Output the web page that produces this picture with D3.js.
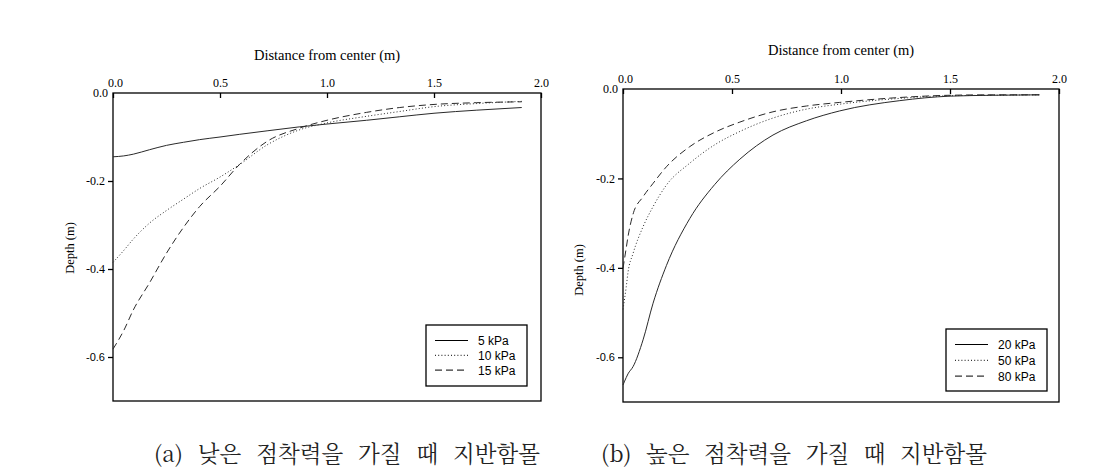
<!DOCTYPE html>
<html><head><meta charset="utf-8">
<script src="https://cdn.jsdelivr.net/npm/d3@7"></script>
<style>
body{margin:0;background:#fff;}
svg{display:block;}
</style></head>
<body>
<svg id="c" width="1099" height="474"></svg>
<script>
// ---- data ----
const xTicks = [0, 0.5, 1.0, 1.5, 2.0];
const yTicks = [0, -0.2, -0.4, -0.6];
const xTitle = "Distance from center (m)";
const yTitle = "Depth (m)";

const distA = [0, 0.05, 0.095, 0.17, 0.25, 0.33, 0.405, 0.5, 0.59, 0.72, 0.87, 1.0, 1.185, 1.34, 1.5, 1.7, 1.91];
const depth5 = [-0.145, -0.143, -0.139, -0.129, -0.119, -0.112, -0.106, -0.100, -0.094, -0.086, -0.077, -0.0705, -0.062, -0.054, -0.046, -0.039, -0.033];
const depth10 = [-0.385, -0.358, -0.332, -0.296, -0.267, -0.241, -0.217, -0.191, -0.163, -0.118, -0.084, -0.068, -0.053, -0.042, -0.031, -0.024, -0.019];
const depth15 = [-0.582, -0.540, -0.493, -0.432, -0.364, -0.305, -0.258, -0.212, -0.163, -0.110, -0.080, -0.062, -0.044, -0.033, -0.026, -0.022, -0.020];
const seriesA = ["5 kPa", "10 kPa", "15 kPa"];

const distB = [0, 0.015, 0.023, 0.046, 0.092, 0.138, 0.199, 0.306, 0.42, 0.536, 0.688, 0.842, 0.994, 1.27, 1.5, 1.7, 1.91];
const depth20 = [-0.662, -0.645, -0.637, -0.621, -0.561, -0.479, -0.395, -0.290, -0.214, -0.157, -0.103, -0.071, -0.049, -0.026, -0.016, -0.014, -0.013];
const depth50 = [-0.493, -0.442, -0.410, -0.368, -0.308, -0.263, -0.215, -0.166, -0.125, -0.095, -0.065, -0.045, -0.034, -0.021, -0.015, -0.014, -0.013];
const depth80 = [-0.401, -0.355, -0.330, -0.280, -0.241, -0.211, -0.174, -0.129, -0.097, -0.074, -0.051, -0.038, -0.030, -0.019, -0.014, -0.013, -0.013];
const seriesB = ["20 kPa", "50 kPa", "80 kPa"];

const captions = ["(a) 낮은 점착력을 가질 때 지반함몰", "(b) 높은 점착력을 가질 때 지반함몰"];

// ---- drawing ----
const svg = d3.select("#c");
const dashes = [null, "1,2.2", "7,4"];
const serif = "'Liberation Serif','Times New Roman',serif";
const sans = "'Liberation Sans',Arial,sans-serif";

function panel(cfg) {
  const x = d3.scaleLinear().domain([0, 2]).range([cfg.x0, cfg.x1]);
  const y = d3.scaleLinear().domain([0, -0.7]).range([cfg.y0, cfg.y1]);
  const g = svg.append("g");

  // plot box
  g.append("rect").attr("x", cfg.x0).attr("y", cfg.y0)
    .attr("width", cfg.x1 - cfg.x0).attr("height", cfg.y1 - cfg.y0)
    .attr("fill", "none").attr("stroke", "#000").attr("stroke-width", 1.3);

  // top x axis (ticks inward)
  const xa = g.append("g").attr("transform", `translate(0,${cfg.y0})`)
    .call(d3.axisTop(x).tickValues(xTicks).tickSize(-5).tickPadding(6).tickFormat(d3.format(".1f")));
  xa.select(".domain").remove();
  xa.selectAll("line").attr("stroke-width", 1.3);
  xa.selectAll("text").attr("font-family", serif).attr("font-size", 12).attr("fill", "#000");
  xa.selectAll(".tick").filter(d => d === 0).select("text").attr("dx", 2);

  // left y axis (ticks outward)
  const ya = g.append("g").attr("transform", `translate(${cfg.x0},0)`)
    .call(d3.axisLeft(y).tickValues(yTicks).tickSize(5).tickPadding(3)
      .tickFormat(d => d === 0 ? "0.0" : d3.format(".1f")(d).replace("−", "-")));
  ya.select(".domain").remove();
  ya.selectAll("line").attr("stroke-width", 1.3);
  ya.selectAll("text").attr("fill", "#000")
    .attr("font-family", d => d === -0.6 ? sans : serif)
    .attr("font-size", d => d === -0.6 ? 11 : 12);
  ya.selectAll(".tick").filter(d => d === 0).select("line").remove();
  ya.selectAll(".tick").filter(d => d === 0).select("text").attr("x", -5);

  // titles
  g.append("text").attr("x", (cfg.x0 + cfg.x1) / 2).attr("y", cfg.titleY)
    .attr("text-anchor", "middle").attr("font-family", serif).attr("font-size", 14.5)
    .text(xTitle);
  g.append("text").attr("transform", `translate(${cfg.ytX},${cfg.ytY}) rotate(-90)`)
    .attr("text-anchor", "middle").attr("font-family", serif).attr("font-size", 12.5)
    .text(yTitle);

  // lines
  const line = d3.line().x((d, i) => x(cfg.dist[i])).y(d => y(d)).curve(d3.curveMonotoneX);
  cfg.series.forEach((s, k) => {
    g.append("path").datum(s).attr("d", line).attr("fill", "none")
      .attr("stroke", "#2a2a2a").attr("stroke-width", 1)
      .attr("stroke-dasharray", dashes[k]);
  });

  // legend
  const L = cfg.leg;
  g.append("rect").attr("x", L.x).attr("y", L.y).attr("width", L.w).attr("height", L.h)
    .attr("fill", "#fff").attr("stroke", "#000").attr("stroke-width", 1.3);
  cfg.names.forEach((n, k) => {
    const yy = L.y + L.first + k * L.step;
    g.append("line").attr("x1", L.x + 9).attr("x2", L.x + 42).attr("y1", yy).attr("y2", yy)
      .attr("stroke", "#000").attr("stroke-width", 1).attr("stroke-dasharray", dashes[k]);
    g.append("text").attr("x", L.x + 52).attr("y", yy + 4.5).attr("font-family", sans)
      .attr("font-size", 12).text(n);
  });

  // caption: wide gaps between words like the original
  const cap = g.append("text").attr("x", cfg.capX).attr("y", 462)
    .attr("font-family", "'Noto Serif CJK KR','Noto Sans CJK KR',sans-serif").attr("font-size", 22.5)
    .attr("fill", "#222")
    .text(cfg.caption);
  const len = cap.node().getComputedTextLength();
  const nSp = cfg.caption.split(" ").length - 1;
  cap.attr("word-spacing", (cfg.capW - len) / nSp);
}

panel({
  x0: 113, x1: 541, y0: 93, y1: 401, titleY: 60, ytX: 74, ytY: 248,
  dist: distA, series: [depth5, depth10, depth15], names: seriesA,
  leg: {x: 426, y: 325, w: 101, h: 61, first: 15.5, step: 14.8},
  caption: captions[0], capX: 154, capW: 386
});
panel({
  x0: 623, x1: 1059, y0: 89, y1: 402, titleY: 55, ytX: 583, ytY: 270,
  dist: distB, series: [depth20, depth50, depth80], names: seriesB,
  leg: {x: 946, y: 329, w: 101, h: 62, first: 15.5, step: 15.8},
  caption: captions[1], capX: 601, capW: 386
});
</script>
</body></html>
